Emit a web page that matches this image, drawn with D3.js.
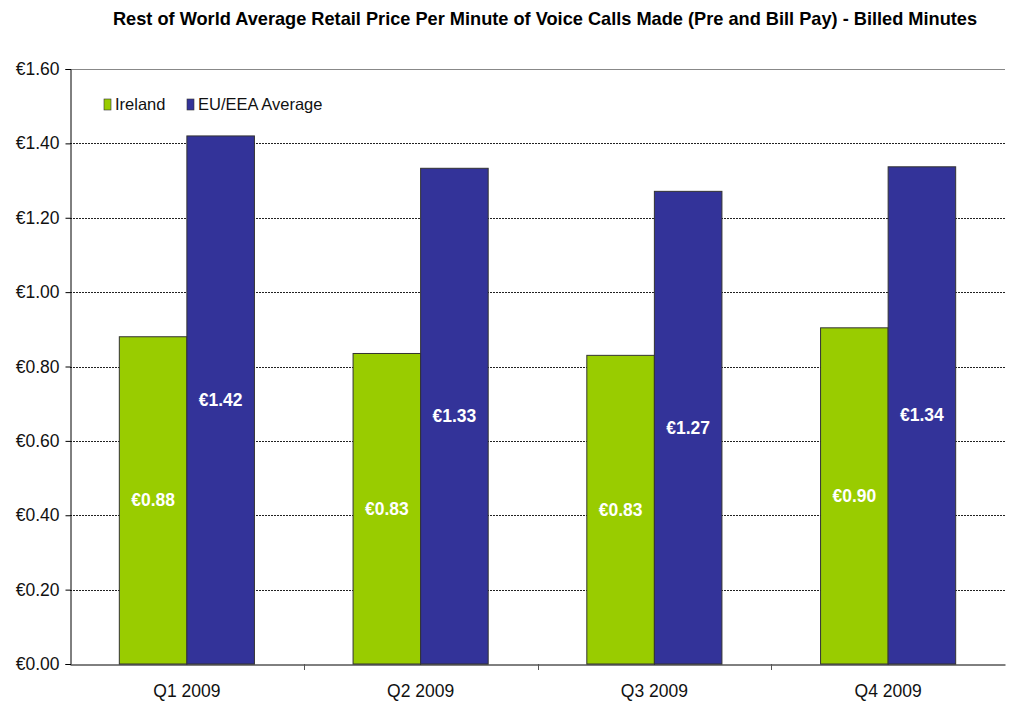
<!DOCTYPE html>
<html>
<head>
<meta charset="utf-8">
<script src="https://cdn.jsdelivr.net/npm/d3@7"></script>
<style>
  body { margin: 0; background: #fff; }
  text { font-family: "Liberation Sans", Arial, sans-serif; }
</style>
</head>
<body>
<div class="chart"></div>
<script>
var green = '#99cc00';
var blue = '#333399';

var quarters = ['Q1 2009', 'Q2 2009', 'Q3 2009', 'Q4 2009'];
var seriesNames = ['Ireland', 'EU/EEA Average'];
var ireland = [0.88, 0.835, 0.83, 0.904];
var euAverage = [1.42, 1.333, 1.271, 1.337];
var tickValues = [0, 0.2, 0.4, 0.6, 0.8, 1.0, 1.2, 1.4, 1.6];

var width = 1009;
var height = 704;
var margin = {top: 69, right: 4, bottom: 40, left: 70};

var svg = d3.select('.chart').append('svg')
  .attr('width', width)
  .attr('height', height);

var x = d3.scaleBand()
  .domain(quarters)
  .range([margin.left, width - margin.right])
  .paddingInner(0)
  .paddingOuter(0);

var x1 = d3.scaleBand()
  .domain(seriesNames)
  .range([0, x.bandwidth()])
  .paddingInner(0)
  .paddingOuter(0.73);

var y = d3.scaleLinear()
  .domain([0, 1.6])
  .range([height - margin.bottom, margin.top]);

var fmt = function(d){ return '\u20ac' + d.toFixed(2); };

// title
svg.append('text')
  .attr('x', 545)
  .attr('y', 25)
  .attr('text-anchor', 'middle')
  .attr('font-weight', 'bold')
  .attr('font-size', '18.2px')
  .text('Rest of World Average Retail Price Per Minute of Voice Calls Made (Pre and Bill Pay) - Billed Minutes');

// gridlines
svg.append('g').selectAll('line')
  .data(tickValues.filter(function(d){ return d > 0; }))
  .enter().append('line')
  .attr('x1', margin.left)
  .attr('x2', width - margin.right)
  .attr('y1', function(d){ return Math.round(y(d)) + 0.5; })
  .attr('y2', function(d){ return Math.round(y(d)) + 0.5; })
  .attr('stroke', function(d){ return d === 1.6 ? '#888' : '#222'; })
  .attr('stroke-width', 1)
  .attr('stroke-dasharray', function(d){ return d === 1.6 ? null : '2,1'; });

// y axis
var yAxis = svg.append('g')
  .attr('transform', 'translate(' + (margin.left + 0.5) + ',0)')
  .call(d3.axisLeft(y).tickValues(tickValues).tickFormat(fmt).tickSize(5).tickPadding(6));
yAxis.select('.domain').attr('stroke', '#000');
yAxis.selectAll('.tick line').attr('stroke', '#000');
yAxis.selectAll('.tick text')
  .attr('font-size', '17.5px')
  .attr('fill', '#111');

// bars
var groups = svg.append('g').selectAll('g')
  .data(quarters)
  .enter().append('g')
  .attr('transform', function(d){ return 'translate(' + x(d) + ',0)'; });

var barData = function(d, i){
  return [
    {name: seriesNames[0], value: ireland[i], color: green},
    {name: seriesNames[1], value: euAverage[i], color: blue}
  ];
};

groups.selectAll('rect')
  .data(barData)
  .enter().append('rect')
  .attr('x', function(d){ return x1(d.name); })
  .attr('y', function(d){ return y(d.value); })
  .attr('width', x1.bandwidth())
  .attr('height', function(d){ return y(0) - y(d.value); })
  .attr('fill', function(d){ return d.color; })
  .attr('stroke', '#333')
  .attr('stroke-width', 1);

groups.selectAll('text.lbl')
  .data(barData)
  .enter().append('text')
  .attr('class', 'lbl')
  .attr('x', function(d){ return x1(d.name) + x1.bandwidth() / 2; })
  .attr('y', function(d){ return (y(d.value) + y(0)) / 2 + 6; })
  .attr('text-anchor', 'middle')
  .attr('font-weight', 'bold')
  .attr('font-size', '17.5px')
  .attr('fill', '#fff')
  .text(function(d){ return fmt(d.value); });

// x axis
var xAxis = svg.append('g')
  .attr('transform', 'translate(0,' + (y(0) + 0.5) + ')')
  .call(d3.axisBottom(x).tickSize(0).tickPadding(20));
xAxis.select('.domain').attr('stroke', '#000');
xAxis.selectAll('.tick text')
  .attr('font-size', '17.5px')
  .attr('fill', '#111');

// category separators
svg.append('g').selectAll('line')
  .data(quarters.slice(1))
  .enter().append('line')
  .attr('x1', function(d){ return Math.round(x(d)) + 0.5; })
  .attr('x2', function(d){ return Math.round(x(d)) + 0.5; })
  .attr('y1', y(0))
  .attr('y2', y(0) + 6)
  .attr('stroke', '#555');

// legend
var legend = svg.append('g')
  .attr('transform', 'translate(104,99)');

var legendItems = legend.selectAll('g')
  .data([{name: seriesNames[0], color: green}, {name: seriesNames[1], color: blue}])
  .enter().append('g')
  .attr('transform', function(d, i){ return 'translate(' + (i * 83) + ',0)'; });

legendItems.append('rect')
  .attr('width', 7)
  .attr('height', 11)
  .attr('fill', function(d){ return d.color; })
  .attr('stroke', '#333')
  .attr('stroke-width', 0.6);

legendItems.append('text')
  .attr('x', 11)
  .attr('y', 11)
  .attr('font-size', '16.5px')
  .attr('fill', '#111')
  .text(function(d){ return d.name; });
</script>
</body>
</html>
